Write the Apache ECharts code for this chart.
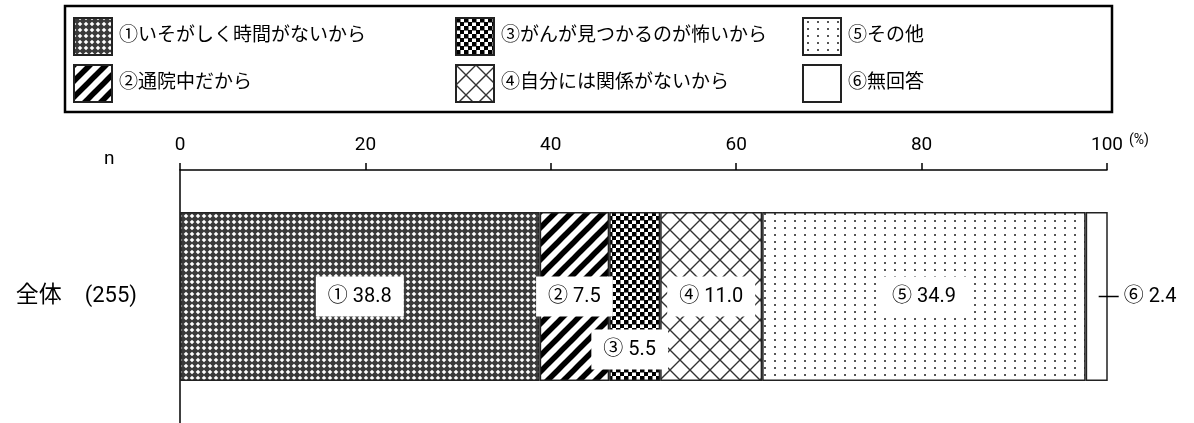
<!DOCTYPE html>
<html>
<head>
<meta charset="utf-8">
<script src="https://cdn.jsdelivr.net/npm/echarts@6/dist/echarts.min.js"></script>
<style>
  html, body { margin: 0; padding: 0; background: #fff; }
  #chart { width: 1194px; height: 423px; }
</style>
</head>
<body>
<div id="chart"></div>
<script>
// データ
var categories = ['全体'];
var sampleSizes = ['(255)'];
var seriesNames = [
  '①いそがしく時間がないから',
  '②通院中だから',
  '③がんが見つかるのが怖いから',
  '④自分には関係がないから',
  '⑤その他',
  '⑥無回答'
];
var marks = ['①', '②', '③', '④', '⑤', '⑥'];
var values = [38.8, 7.5, 5.5, 11.0, 34.9, 2.4];

var FONT = 'Roboto, "Noto Sans CJK JP", sans-serif';

// 白黒のハッチング
function makePattern(w, h, draw) {
  var c = document.createElement('canvas');
  c.width = w; c.height = h;
  var ctx = c.getContext('2d');
  ctx.fillStyle = '#fff';
  ctx.fillRect(0, 0, w, h);
  draw(ctx, w, h);
  return { image: c, repeat: 'repeat' };
}

var patterns = [
  makePattern(6, 6, function (ctx) {
    ctx.fillStyle = '#3a3a3a';
    ctx.beginPath();
    ctx.moveTo(3, -0.7); ctx.lineTo(6.7, 3); ctx.lineTo(3, 6.7); ctx.lineTo(-0.7, 3);
    ctx.closePath();
    ctx.fill();
  }),
  makePattern(16, 16, function (ctx) {
    ctx.strokeStyle = '#000';
    ctx.lineWidth = 5.5;
    [-16, 0, 16].forEach(function (k) {
      ctx.beginPath();
      ctx.moveTo(k - 2, 18); ctx.lineTo(k + 18, -2);
      ctx.stroke();
    });
  }),
  makePattern(8, 8, function (ctx) {
    ctx.fillStyle = '#000';
    ctx.fillRect(0, 0, 4.5, 4.5);
    ctx.fillRect(4, 4, 4.5, 4.5);
  }),
  makePattern(20, 20, function (ctx) {
    ctx.strokeStyle = '#333';
    ctx.lineWidth = 1.4;
    ctx.beginPath();
    ctx.moveTo(0, 0); ctx.lineTo(20, 20);
    ctx.moveTo(20, 0); ctx.lineTo(0, 20);
    ctx.stroke();
  }),
  makePattern(10, 7, function (ctx) {
    ctx.fillStyle = '#555';
    ctx.fillRect(4, 3, 2, 2);
  }),
  '#fff'
];

var chart = echarts.init(document.getElementById('chart'));

var series = seriesNames.map(function (name, i) {
  var label = {
    show: true,
    position: 'inside',
    formatter: marks[i] + ' ' + values[i].toFixed(1),
    color: '#000',
    fontSize: 20,
    fontFamily: FONT,
    backgroundColor: '#fff',
    padding: [10, 12, 10, 12]
  };
  if (i === 2) {
    label.offset = [-5, 53];
  }
  if (i === 5) {
    // 引き出し線つきで棒の右へ
    label.position = 'insideLeft';
    label.offset = [8, 0];
    label.backgroundColor = 'transparent';
    label.padding = 0;
    label.formatter = '{l|}{t|' + marks[i] + ' ' + values[i].toFixed(1) + '}';
    label.rich = {
      l: { width: 20, height: 1.5, backgroundColor: '#000' },
      t: { fontSize: 20, color: '#000', fontFamily: FONT, padding: [0, 0, 0, 5] }
    };
  }
  return {
    name: name,
    type: 'bar',
    stack: 'total',
    barWidth: 169,
    data: values.slice(i, i + 1),
    itemStyle: { color: patterns[i], borderColor: '#222', borderWidth: 1.5 },
    label: label,
    emphasis: { disabled: true }
  };
});

function legendAt(left, names) {
  return {
    left: left,
    top: 17,
    padding: 0,
    orient: 'vertical',
    icon: 'rect',
    itemWidth: 38,
    itemHeight: 37,
    itemGap: 8,
    selectedMode: false,
    data: names,
    textStyle: { fontSize: 19, color: '#000', fontFamily: FONT, padding: [0, 0, 0, 2] }
  };
}

var option = {
  animation: false,
  legend: [
    legendAt(73, seriesNames.slice(0, 2)),
    legendAt(455, seriesNames.slice(2, 4)),
    legendAt(802, seriesNames.slice(4, 6))
  ],
  grid: { left: 180, right: 87, top: 170, bottom: 0 },
  xAxis: {
    type: 'value',
    position: 'top',
    min: 0,
    max: 100,
    interval: 20,
    axisLine: { show: true, lineStyle: { color: '#000', width: 1.5 } },
    axisTick: { show: true, length: 7, lineStyle: { color: '#000', width: 1.5 } },
    splitLine: { show: false },
    axisLabel: { color: '#000', fontSize: 19, fontFamily: FONT, margin: 15 }
  },
  yAxis: {
    type: 'category',
    data: categories,
    axisLine: { show: true, lineStyle: { color: '#000', width: 1.5 } },
    axisTick: { show: false },
    axisLabel: {
      margin: 43,
      formatter: function (v, i) {
        return '{a|' + v + '}{b|' + sampleSizes[i] + '}';
      },
      rich: {
        a: { fontSize: 23, color: '#000', fontFamily: FONT },
        b: { fontSize: 22, color: '#000', fontFamily: FONT, padding: [0, 0, 0, 23] }
      }
    }
  },
  graphic: [
    {
      type: 'rect',
      shape: { x: 65, y: 6, width: 1047, height: 106 },
      style: { fill: 'none', stroke: '#000', lineWidth: 2.5 }
    },
    {
      type: 'text',
      left: 104,
      top: 150,
      style: { text: 'n', fontSize: 19, fill: '#000', fontFamily: FONT }
    },
    {
      type: 'text',
      left: 1129,
      top: 134,
      style: { text: '(%)', fontSize: 14, fill: '#000', fontFamily: FONT }
    }
  ],
  series: series
};

chart.setOption(option);
</script>
</body>
</html>
